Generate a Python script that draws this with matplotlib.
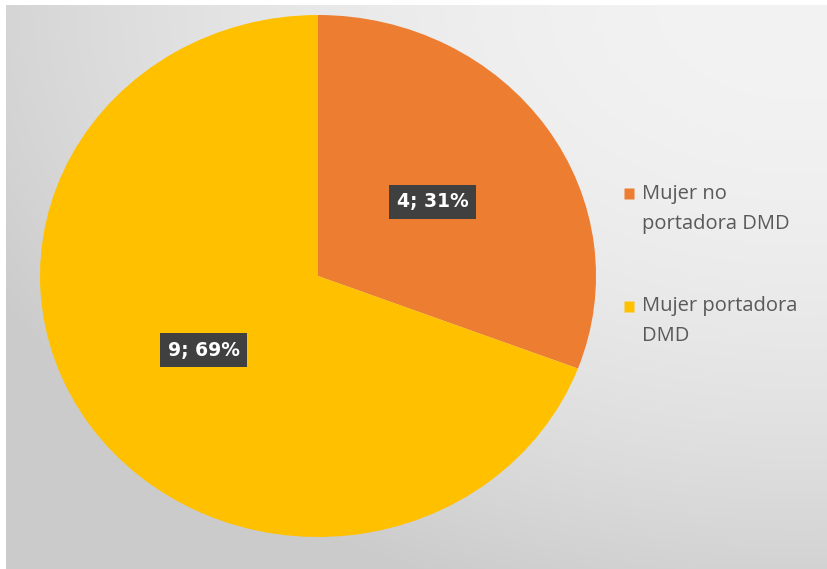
import numpy as np
import matplotlib.pyplot as plt
from matplotlib.lines import Line2D
from matplotlib.path import Path

# data
categories = ['Mujer no\nportadora DMD', 'Mujer portadora\nDMD']
counts = [4, 9]
colors = ['#ED7D31', '#FFC000']

W, H = 828, 569
fig = plt.figure(figsize=(W / 100, H / 100), dpi=100)
fig.patch.set_facecolor('white')

# background: soft radial gradient, lighter towards the top right
yy, xx = np.mgrid[5:H + 10, 6:W + 10]
d2 = ((xx - 800) / 1.45) ** 2 + yy ** 2
val = np.clip(243 - 1e-4 * d2, 203, 243) / 255
fig.figimage(np.dstack([val, val, val]), xo=6, yo=-10, origin='upper', zorder=0)

# pie (slightly stretched horizontally, as in the original)
ax = fig.add_axes([40 / W, 32 / H, 556 / W, 522 / H])
ax.set_zorder(2)
ax.patch.set_visible(False)
total = sum(counts)


def fmt(pct):
    n = int(round(pct * total / 100))
    return f'{n}; {pct:.0f}%'


wedges, _, autotexts = ax.pie(counts, colors=colors, startangle=90, counterclock=False,
                              autopct=fmt, pctdistance=0.5,
                              wedgeprops=dict(linewidth=0))
ax.set_aspect('auto')
ax.set_xlim(-1, 1)
ax.set_ylim(-1, 1)

for t in autotexts:
    t.set_color('white')
    t.set_fontweight('bold')
    t.set_fontsize(13.5)
    t.set_family('DejaVu Sans')
    t.set_bbox(dict(boxstyle='square,pad=0.4', facecolor='#404040', edgecolor='none'))

# legend: square marker shifted up so it sits beside the first text line
sq = Path([(-0.25, 0.5), (0.25, 0.5), (0.25, 1.0), (-0.25, 1.0), (-0.25, 0.5)], closed=True)
handles = [Line2D([], [], marker=sq, linestyle='none', markersize=30,
                  markerfacecolor=c, markeredgecolor='none') for c in colors]
leg = fig.legend(handles, categories, loc='upper left', bbox_to_anchor=(605 / W, 1 - 166 / H),
                 frameon=False, handlelength=0.6, handletextpad=0.35, labelspacing=3.1,
                 prop={'family': 'Open Sans', 'size': 14.5})
leg.set_zorder(3)
for t in leg.get_texts():
    t.set_color('#595959')
    t.set_linespacing(1.65)

fig.savefig('out.png', dpi=100)
